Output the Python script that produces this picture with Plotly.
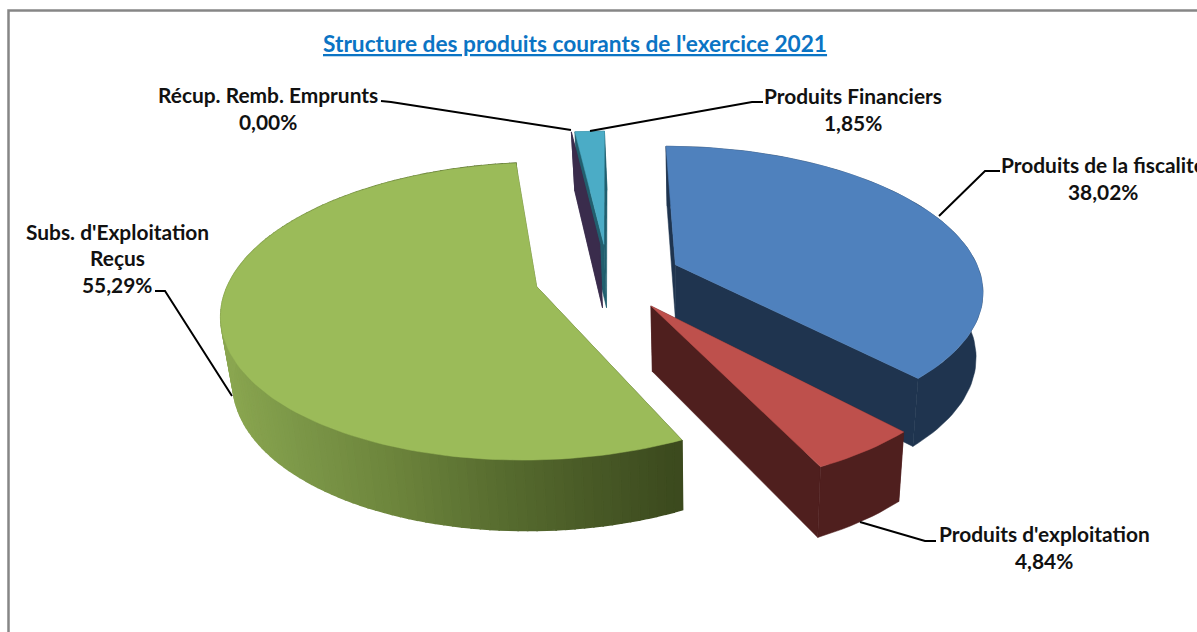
import math
import numpy as np
import plotly.graph_objects as go

# ---- data ----
categories = ["Produits de la fiscalité", "Produits d'exploitation", "Subs. d'Exploitation<br>Reçus",
              "Récup. Remb. Emprunts", "Produits Financiers"]
values = [38.02, 4.84, 55.29, 0.00, 1.85]
value_labels = ["38,02%", "4,84%", "55,29%", "0,00%", "1,85%"]
title_text = "Structure des produits courants de l'exercice 2021"

# ---- style ----
top_colors = ["#4F81BD", "#BE504C", "#9BBB59", "#403152", "#4BACC6"]
wall_colors = ["#1F344F", "#4F1F1E", None, "#3A2C4C", "#215F6E"]
# (slice index, parts to draw) from back to front
draw_steps = [(4, "w"), (3, "w"), (4, "t"), (0, "wt"), (1, "wt"), (2, "wt")]
label_first_line_y = [164.5, 533.5, 231, 94.5, 95.5]
label_center_x = [1103, 1044, 117, 268, 853]
LINE_STEP = 26.5
leaders = [
    [(1000, 171), (985, 171), (939, 216)],
    [(936, 541), (925, 541), (860, 522)],
    [(155, 291), (165, 291), (232, 396)],
    [(381, 101), (391, 102), (571, 130)],
    [(763, 102), (752, 102), (590, 131)],
]
green_wall_x = [225, 300, 400, 500, 600, 680]
green_wall_rgb = [(138, 166, 80), (124, 151, 72), (108, 132, 60), (88, 109, 48), (72, 89, 38), (60, 74, 30)]

# ---- projection of the exploded 3D pie ----
VX, VY, RX, RY, K, EXPL = 608, 277, 306, 141.6, 0.164, 0.24
ZS, H, HK = 0.975, 62.5, 0.135


def project(X, Y, bottom=False):
    w = 1 + K * Y
    sx, sy = RX * X / w, -RY * Y / w
    if bottom:
        return VX + 2.5 + ZS * sx, VY + sy * ZS + 2 + H / (1 + HK * Y)
    return VX + sx, VY + sy


def green_color(x):
    c = [np.interp(x, green_wall_x, [r[i] for r in green_wall_rgb]) for i in range(3)]
    return "rgb(%d,%d,%d)" % tuple(int(v) for v in c)


fig = go.Figure()


def poly(pts, color, width=0.0):
    xs = [p[0] for p in pts] + [pts[0][0]]
    ys = [p[1] for p in pts] + [pts[0][1]]
    fig.add_trace(go.Scatter(x=xs, y=ys, mode="lines", fill="toself", fillcolor=color,
                             line=dict(color=color, width=width), hoverinfo="skip", showlegend=False))


total = sum(values)
starts = np.cumsum([0] + values[:-1]) / total * 360
sweeps = np.array(values) / total * 360

for i, parts in draw_steps:
    a0, da = starts[i], sweeps[i]
    mid = math.radians(a0 + da / 2)
    ox, oy = EXPL * math.sin(mid), EXPL * math.cos(mid)
    n = max(2, int(da / 1.5) + 1)
    thetas = np.radians(np.linspace(a0, a0 + da, n))
    rim = [(ox + math.sin(t), oy + math.cos(t)) for t in thetas]
    apex = (ox, oy)
    wall = wall_colors[i]
    if "w" in parts:
        # radial faces
        for r in (rim[0], rim[-1]):
            col = wall or green_color(project(*r)[0])
            poly([project(*r), project(*apex), project(*apex, True), project(*r, True)], col, 0.5)
        # outer wall
        if wall:
            poly([project(*r) for r in rim] + [project(*r, True) for r in reversed(rim)], wall, 0.5)
        else:
            for r0, r1 in zip(rim[:-1], rim[1:]):
                col = green_color(project(*r0)[0])
                poly([project(*r0), project(*r1), project(*r1, True), project(*r0, True)], col, 1.6)
    if "t" in parts and da > 0:
        poly([project(*apex)] + [project(*r) for r in rim], top_colors[i], 0.5)

shapes = [dict(type="path", path="M 8.5 632 L 8.5 10.5 L 1197 10.5", line=dict(color="#868686", width=2.5), layer="below")]
for pts in leaders:
    path = "M " + " L ".join(f"{x} {y}" for x, y in pts)
    shapes.append(dict(type="path", path=path, line=dict(color="#000000", width=2)))

annotations = [dict(x=575, y=43, xref="x", yref="y", showarrow=False,
                    text=f"<u><b>{title_text}</b></u>",
                    font=dict(family="Lato", size=22.7, color="#0B74C4"))]
for name, lab, cx, y0 in zip(categories, value_labels, label_center_x, label_first_line_y):
    for j, line in enumerate(name.split("<br>") + [lab]):
        annotations.append(dict(x=cx, y=y0 + j * LINE_STEP, xref="x", yref="y", showarrow=False, align="center",
                                text=f"<b>{line}</b>",
                                font=dict(family="Lato", size=20.9, color="#111111")))

fig.update_layout(
    width=1197, height=632, margin=dict(l=0, r=0, t=0, b=0),
    paper_bgcolor="white", plot_bgcolor="white", showlegend=False,
    xaxis=dict(range=[0, 1197], visible=False, fixedrange=True),
    yaxis=dict(range=[632, 0], visible=False, fixedrange=True),
    shapes=shapes, annotations=annotations,
)
fig.write_html("out.html", config=dict(displayModeBar=False),
               post_script="document.body.style.margin='0';document.documentElement.style.overflow='hidden';")
